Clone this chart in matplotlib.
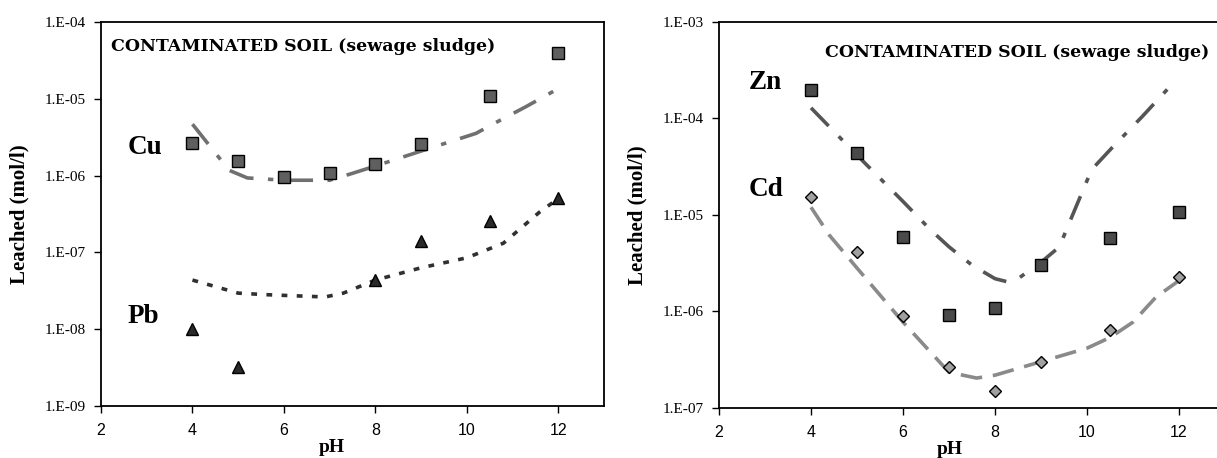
import numpy as np
import matplotlib
matplotlib.use("Agg")
import matplotlib.pyplot as plt
from matplotlib.ticker import FixedLocator, FuncFormatter

# --- measured leaching (mol/l) vs pH ---
ph_pts = [4, 5, 6, 7, 8, 9, 10.5, 12]

cu_meas = [2.66e-6, 1.55e-6, 9.5e-7, 1.07e-6, 1.41e-6, 2.6e-6, 1.09e-5, 4.0e-5]
pb_ph = [4, 5, 8, 9, 10.5, 12]
pb_meas = [1.0e-8, 3.2e-9, 4.4e-8, 1.4e-7, 2.6e-7, 5.1e-7]

zn_meas = [1.97e-4, 4.4e-5, 5.9e-6, 9.1e-7, 1.08e-6, 3.0e-6, 5.8e-6, 1.07e-5]
cd_meas = [1.55e-5, 4.1e-6, 8.9e-7, 2.65e-7, 1.5e-7, 3.0e-7, 6.4e-7, 2.3e-6]

# --- model curves (log10 of mol/l) ---
cu_fit_ph = [4.0, 4.8, 5.2, 6.0, 7.0, 7.5, 8.0, 9.0, 10.2, 10.6, 11.3, 11.9]
cu_fit_log = [-5.33, -5.93, -6.03, -6.06, -6.06, -5.97, -5.875, -5.68, -5.45, -5.32, -5.10, -4.90]

pb_fit_ph = [4.0, 5.0, 5.6, 6.9, 7.3, 8.0, 9.0, 10.0, 10.8, 11.6, 12.0]
pb_fit_log = [-7.36, -7.53, -7.55, -7.58, -7.53, -7.36, -7.20, -7.07, -6.88, -6.47, -6.30]

zn_fit_ph = [4.0, 5.0, 6.0, 6.6, 7.0, 7.5, 8.0, 8.25, 8.5, 9.0, 9.4, 9.55, 10.1, 10.55, 11.2, 11.8, 12.0]
zn_fit_log = [-3.89, -4.38, -4.86, -5.155, -5.33, -5.52, -5.66, -5.69, -5.66, -5.49, -5.33, -5.155,
              -4.53, -4.30, -3.98, -3.67, -3.64]

cd_fit_ph = [4.0, 4.4, 5.0, 6.0, 7.0, 7.6, 8.0, 9.0, 10.0, 10.5, 11.0, 11.5, 12.0]
cd_fit_log = [-4.92, -5.21, -5.55, -6.11, -6.63, -6.69, -6.66, -6.52, -6.38, -6.27, -6.11, -5.85, -5.68]

left_decades = [-9, -8, -7, -6, -5, -4]
right_decades = [-7, -6, -5, -4, -3]
ph_ticks = [2, 4, 6, 8, 10, 12]

SERIF = "Liberation Serif"
SANS = "Liberation Sans"
TITLE = "CONTAMINATED SOIL (sewage sludge)"


def sci_label(v, pos):
    return "1.E-%02d" % int(round(-np.log10(v)))


def style_axes(ax, decades, xlab_x, ylab_x):
    ax.set_yscale("log")
    ax.set_xlim(2, 13)
    ax.set_ylim(10.0 ** decades[0], 10.0 ** decades[-1])
    ax.yaxis.set_major_locator(FixedLocator([10.0 ** d for d in decades]))
    ax.yaxis.set_minor_locator(FixedLocator([]))
    ax.yaxis.set_major_formatter(FuncFormatter(sci_label))
    ax.set_xticks(ph_ticks)
    ax.tick_params(direction="out", length=5, width=1, colors="black")
    ax.tick_params(axis="y", pad=6)
    ax.tick_params(axis="x", pad=7)
    for lab in ax.get_yticklabels():
        lab.set_fontfamily(SERIF)
        lab.set_fontsize(11)
    for lab in ax.get_xticklabels():
        lab.set_fontfamily(SANS)
        lab.set_fontsize(11.5)
    for sp in ax.spines.values():
        sp.set_linewidth(1.3)
    ax.set_xlabel("pH", fontfamily=SERIF, fontweight="bold", fontsize=14)
    ax.xaxis.set_label_coords(xlab_x, -0.085)
    ax.set_ylabel("Leached (mol/l)", fontfamily=SERIF, fontweight="bold", fontsize=15)
    ax.yaxis.set_label_coords(ylab_x, 0.5)


fig = plt.figure(figsize=(12.17, 4.58), dpi=100)
ax1 = fig.add_axes([0.0830, 0.1135, 0.4133, 0.8384])
ax2 = fig.add_axes([0.5908, 0.1092, 0.4158, 0.8428])

# left: Cu and Pb
ax1.plot(cu_fit_ph, 10.0 ** np.array(cu_fit_log), color="#707070", lw=2.6,
         dashes=(7, 4, 1.5, 4))
ax1.plot(pb_fit_ph, 10.0 ** np.array(pb_fit_log), color="#303030", lw=2.6,
         dashes=(1.6, 2.6))
ax1.plot(ph_pts, cu_meas, "s", ms=8, mfc="#5f5f5f", mec="black", mew=1.0, ls="none")
ax1.plot(pb_ph, pb_meas, "^", ms=9, mfc="#2a2a2a", mec="black", mew=1.0, ls="none")
style_axes(ax1, left_decades, 0.459, -0.143)
ax1.text(0.02, 0.935, TITLE, transform=ax1.transAxes, fontfamily="DejaVu Serif",
         fontweight="bold", fontsize=12.5, ha="left", va="center")
ax1.text(0.053, 0.674, "Cu", transform=ax1.transAxes, fontfamily=SERIF,
         fontweight="bold", fontsize=19.5, ha="left", va="center")
ax1.text(0.053, 0.234, "Pb", transform=ax1.transAxes, fontfamily=SERIF,
         fontweight="bold", fontsize=19.5, ha="left", va="center")

# right: Zn and Cd
ax2.plot(zn_fit_ph, 10.0 ** np.array(zn_fit_log), color="#555555", lw=2.6,
         dashes=(7, 4, 1.5, 4))
ax2.plot(cd_fit_ph, 10.0 ** np.array(cd_fit_log), color="#8a8a8a", lw=2.6,
         dashes=(6, 3))
ax2.plot(ph_pts, zn_meas, "s", ms=8, mfc="#4a4a4a", mec="black", mew=1.0, ls="none")
ax2.plot(ph_pts, cd_meas, "D", ms=6, mfc="#a0a0a0", mec="black", mew=1.0, ls="none")
style_axes(ax2, right_decades, 0.4565, -0.142)
ax2.spines["right"].set_visible(False)
ax2.text(0.968, 0.92, TITLE, transform=ax2.transAxes, fontfamily="DejaVu Serif",
         fontweight="bold", fontsize=12.5, ha="right", va="center")
ax2.text(0.059, 0.842, "Zn", transform=ax2.transAxes, fontfamily=SERIF,
         fontweight="bold", fontsize=19.5, ha="left", va="center")
ax2.text(0.059, 0.565, "Cd", transform=ax2.transAxes, fontfamily=SERIF,
         fontweight="bold", fontsize=19.5, ha="left", va="center")

fig.savefig("out.png", dpi=100)
